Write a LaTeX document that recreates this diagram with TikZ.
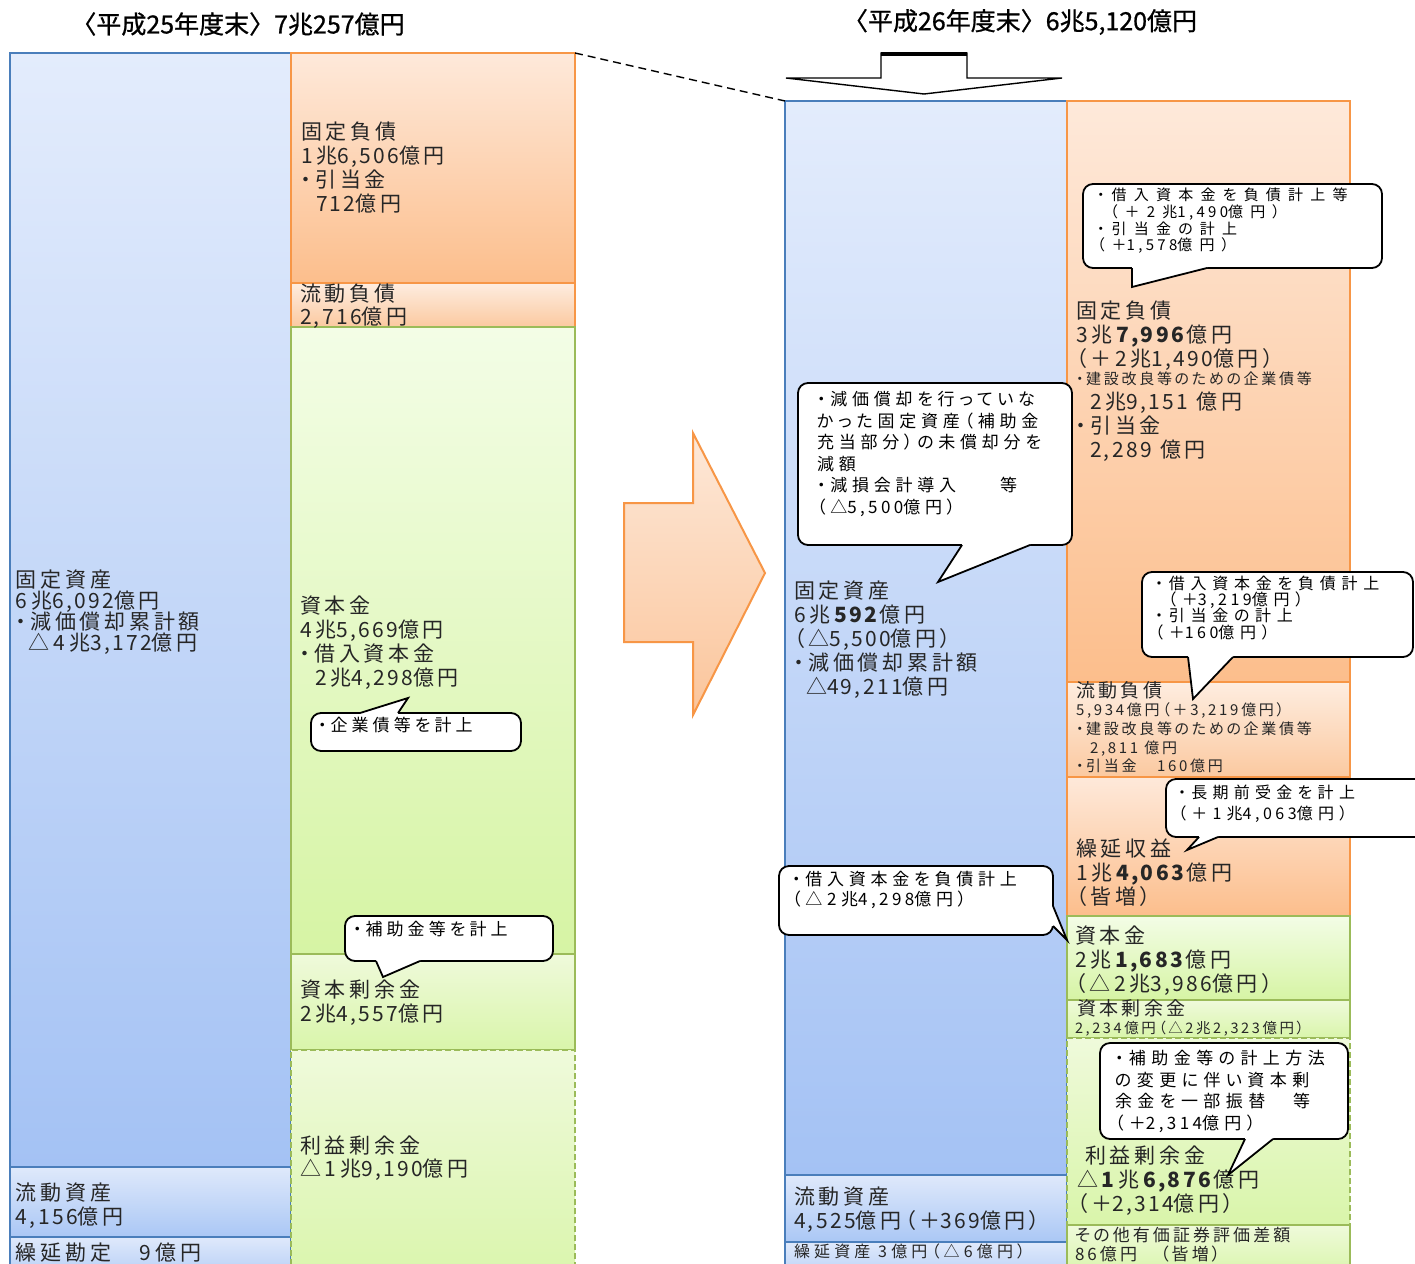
\documentclass[tikz,border=0pt]{standalone}
\usepackage{fontspec}
\setmainfont{Noto Sans CJK JP}[LetterSpace=18,RawFeature=+palt]
\newfontfamily\tfont{Noto Sans CJK JP}[FakeBold=0.8]
\newcommand\zs{\rule[-.25\baselineskip]{0pt}{\baselineskip}}
\newcommand\jf[2]{\fontsize{#1}{#2}\selectfont\lineskiplimit=-\maxdimen\relax}
\newcommand\lsp[1]{\addfontfeature{LetterSpace=#1}}
\newcommand\nmls{11}
\newcommand\nm[1]{{\addfontfeature{LetterSpace=\nmls}#1}}
\definecolor{segblue}{HTML}{4A7EBB}
\definecolor{bluetop}{HTML}{E3ECFC}
\definecolor{bluebot}{HTML}{A4C2F4}
\definecolor{bluetop2}{HTML}{DFE9FB}
\definecolor{bluebot2}{HTML}{AAC7F5}
\definecolor{orgline}{HTML}{F79646}
\definecolor{orgtop}{HTML}{FEE9DA}
\definecolor{orgbot}{HTML}{FCBE8C}
\definecolor{orgtop2}{HTML}{FEEDE0}
\definecolor{orgbot2}{HTML}{FBC9A0}
\definecolor{grnline}{HTML}{9BBB59}
\definecolor{grntop}{HTML}{F3FDE6}
\definecolor{grnbot}{HTML}{D6F4A4}
\definecolor{grntop2}{HTML}{EFFADB}
\definecolor{grnbot2}{HTML}{D9F5AA}
\definecolor{txtc}{HTML}{262626}
\definecolor{arrtop}{HTML}{FDE8D8}
\definecolor{arrbot}{HTML}{FBC59B}
\begin{document}
\begin{tikzpicture}[x=1pt,y=-1pt,
  seg/.style={anchor=north west,inner sep=0pt,outer sep=0pt,line width=1.6pt},
  bseg/.style={seg,draw=segblue,top color=bluetop,bottom color=bluebot},
  bseg2/.style={seg,draw=segblue,top color=bluetop2,bottom color=bluebot2},
  oseg/.style={seg,draw=orgline,top color=orgtop,bottom color=orgbot},
  oseg2/.style={seg,draw=orgline,top color=orgtop2,bottom color=orgbot2},
  gseg/.style={seg,draw=grnline,top color=grntop,bottom color=grnbot},
  gseg2/.style={seg,draw=grnline,top color=grntop2,bottom color=grnbot2},
  lbl/.style={anchor=north west,inner sep=0pt,outer sep=0pt,align=left,text=txtc},
  ctxt/.style={lbl,text=black},
  cbox/.style={anchor=north west,inner sep=0pt,outer sep=0pt,draw=black,fill=white,line width=1.8pt,rounded corners=10pt},
  ctail/.style={draw=black,line width=1.8pt,line join=miter},
  ttl/.style={font=\tfont\fontsize{25}{28}\selectfont,text=black,inner sep=0pt}
]
\useasboundingbox (0,0) rectangle (1415,1263);
\clip (0,0) rectangle (1415,1263);
\fill[white] (0,0) rectangle (1415,1263);

% titles
\node[ttl] (T1) at (238,24) {〈平成25年度末〉7兆257億円};
\node[ttl] (T2) at (1020,22) {〈平成26年度末〉6兆5,120億円};

% ---------- left balance sheet ----------
\node[bseg,minimum width=281pt,minimum height=1114pt] (LA1) at (10,53) {};
\node[bseg2,minimum width=281pt,minimum height=70pt] (LA2) at (10,1167) {};
\node[bseg2,minimum width=281pt,minimum height=50pt] (LA3) at (10,1237) {};
\node[oseg,minimum width=284pt,minimum height=230pt] (LL1) at (291,53) {};
\node[oseg2,minimum width=284pt,minimum height=44pt] (LL2) at (291,283) {};
\node[gseg,minimum width=284pt,minimum height=627pt] (LE1) at (291,327) {};
\node[gseg2,minimum width=284pt,minimum height=96pt] (LE2) at (291,954) {};
\node[gseg2,dashed,dash pattern=on 6pt off 3pt,minimum width=284pt,minimum height=240pt] (LE3) at (291,1050) {};

% ---------- right balance sheet ----------
\node[bseg,minimum width=282pt,minimum height=1074pt] (RA1) at (785,101) {};
\node[bseg2,minimum width=282pt,minimum height=67pt] (RA2) at (785,1175) {};
\node[bseg2,minimum width=282pt,minimum height=50pt] (RA3) at (785,1242) {};
\node[oseg,minimum width=283pt,minimum height=581pt] (RL1) at (1067,101) {};
\node[oseg2,minimum width=283pt,minimum height=95pt] (RL2) at (1067,682) {};
\node[oseg,minimum width=283pt,minimum height=139pt] (RL3) at (1067,777) {};
\node[gseg,minimum width=283pt,minimum height=84pt] (RE1) at (1067,916) {};
\node[gseg2,minimum width=283pt,minimum height=38pt] (RE2) at (1067,1000) {};
\node[gseg2,dashed,dash pattern=on 6pt off 3pt,minimum width=283pt,minimum height=187pt] (RE3) at (1067,1038) {};
\node[gseg2,minimum width=283pt,minimum height=50pt] (RE4) at (1067,1225) {};

% dashed connector
\draw[line width=1.4pt,dash pattern=on 8pt off 5pt] (LL1.north east) -- (RA1.north west);

% down arrow
\draw[fill=white,line width=1.4pt,line join=miter] (881,53) -- (967,53) -- (967,78) -- (1062,78) -- (924,94) -- (786,78) -- (881,78) -- cycle;
\draw[line width=4pt] (881,54) -- (967,54);

% big right arrow
\path[draw=orgline,line width=2pt,top color=arrtop,bottom color=arrbot,line join=miter]
  (624,503) -- (693,503) -- (693,433) -- (765,573) -- (693,715) -- (693,642) -- (624,642) -- cycle;

% ---------- left labels ----------
\node[lbl,font={\jf{21}{21}}] (tLA1) at (16,570.2) {\zs{}固定資産\\6兆\nm{6,092}億円\\・減価償却累計額\\\hspace*{13pt}△4兆\nm{3,172}億円};
\node[lbl,font={\jf{21}{24}}] (tLA2) at (16,1182) {\zs{}流動資産\\\nm{4,156}億円};
\node[lbl,font={\jf{21}{24}}] (tLA3) at (16,1242) {\zs{}繰延勘定　9億円};
\node[lbl,font={\jf{21}{24.3}}] (tLL1) at (301,120.8) {\zs{}固定負債\\1兆\nm{6,506}億円\\・引当金\\\hspace*{15pt}\nm{712}億円};
\node[lbl,font={\jf{21}{23}}] (tLL2) at (300,283.8) {\zs{}流動負債\\\nm{2,716}億円};
\node[lbl,font={\jf{21}{24}}] (tLE1) at (300,595) {\zs{}資本金\\4兆\nm{5,669}億円\\・借入資本金\\\hspace*{15pt}2兆\nm{4,298}億円};
\node[lbl,font={\jf{21}{24}}] (tLE2) at (300,979) {\zs{}資本剰余金\\2兆\nm{4,557}億円};
\node[lbl,font={\jf{21}{23}}] (tLE3) at (300,1135.8) {\zs{}利益剰余金\\△1兆\nm{9,190}億円};

% ---------- right labels ----------
\node[lbl,font={\jf{21}{24}}] (tRA1) at (794,580) {\zs{}固定資産\\6兆\textbf{\nm{592}}億円\\（△\nm{5,500}億円）\\・減価償却累計額\\\hspace*{12pt}△\nm{49,211}億円};
\node[lbl,font={\jf{21}{24}}] (tRA2) at (794,1186) {\zs{}流動資産\\\nm{4,525}億円（＋\nm{369}億円）};
\node[lbl,font={\jf{16}{18}\lsp{26}}] (tRA3) at (794,1244.2) {\zs{}繰延資産 3億円（△6億円）};
\node[lbl,font={\jf{21}{24}}] (tRL1a) at (1076,300) {\zs{}固定負債\\3兆\textbf{\nm{7,996}}億円\\（＋2兆\nm{1,490}億円）};
\node[lbl,font={\jf{15}{18}}] (tRL1b) at (1076,371.2) {\zs{}・建設改良等のための企業債等};
\node[lbl,font={\jf{21}{24}}] (tRL1c) at (1076,391) {\zs{}\hspace*{14pt}2兆\nm{9,151} 億円\\・引当金\\\hspace*{14pt}\nm{2,289} 億円};
\node[lbl,font={\jf{19}{22}}] (tRL2a) at (1076,680.7) {\zs{}流動負債};
\node[lbl,font={\jf{15}{18.7}}] (tRL2b) at (1076,701.7) {\zs{}5,934億円（＋3,219億円）\\・建設改良等のための企業債等\\\hspace*{14pt}2,811 億円\\・引当金　160億円};
\node[lbl,font={\jf{21}{24}}] (tRL3) at (1076,838) {\zs{}繰延収益\\1兆\textbf{\nm{4,063}}億円\\（皆増）};
\node[lbl,font={\jf{21}{24}}] (tRE1) at (1075,925) {\zs{}資本金\\2兆\textbf{\nm{1,683}}億円\\（△2兆\nm{3,986}億円）};
\node[lbl,font={\jf{19}{21}}] (tRE2a) at (1077,999.5) {\zs{}資本剰余金};
\node[lbl,font={\jf{14.5}{17}}] (tRE2b) at (1075,1020.6) {\zs{}2,234億円（△2兆2,323億円）};
\node[lbl,font={\jf{21}{24}}] (tRE3) at (1077,1145) {\zs{}\hspace*{8pt}利益剰余金\\△\textbf{1}兆\textbf{\nm{6,876}}億円\\（＋\nm{2,314}億円）};
\node[lbl,font={\jf{17}{19}}] (tRE4) at (1075,1227.2) {\zs{}その他有価証券評価差額\\86億円　（皆増）};

% ---------- callouts: left ----------
\node[cbox,minimum width=210pt,minimum height=38pt] (cL1) at (311,713) {};
\fill[white] (360,713) -- (408,698) -- (398,713) -- (398,716) -- (360,716) -- cycle;
\draw[ctail] (360,713) -- (408,698) -- (398,713);
\node[ctxt,font={\jf{17}{20}\lsp{24}}] (xL1) at (318,716.5) {\zs{}・企業債等を計上};

\node[cbox,minimum width=208pt,minimum height=45pt] (cL2) at (345,916) {};
\fill[white] (376,961) -- (383,977) -- (420,961) -- (420,958) -- (376,958) -- cycle;
\draw[ctail] (376,961) -- (383,977) -- (420,961);
\node[ctxt,font={\jf{17}{20}\lsp{24}}] (xL2) at (353,920.5) {\zs{}・補助金等を計上};

% ---------- callouts: right ----------
\node[cbox,minimum width=299pt,minimum height=84pt] (c1) at (1083,184) {};
\fill[white] (1132,268) -- (1132,287) -- (1207,268) -- (1207,265) -- (1132,265) -- cycle;
\draw[ctail] (1132,268) -- (1132,287) -- (1207,268);
\node[ctxt,font={\jf{15}{16.7}\lsp{48}\renewcommand\nmls{22}}] (x1) at (1097,188.2) {\zs{}・借入資本金を負債計上等\\\hspace*{13pt}（＋2兆\nm{1,490}億円）\\・引当金の計上\\（＋\nm{1,578}億円）};

\node[cbox,minimum width=274pt,minimum height=162pt] (c2) at (798,383) {};
\fill[white] (962,545) -- (938,582) -- (1030,545) -- (1030,542) -- (962,542) -- cycle;
\draw[ctail] (962,545) -- (938,582) -- (1030,545);
\node[ctxt,font={\jf{17}{21.6}\lsp{28}\renewcommand\nmls{20}}] (x2) at (817,389.3) {\zs{}・減価償却を行っていな\\かった固定資産（補助金\\充当部分）の未償却分を\\減額\\・減損会計導入\hspace*{44pt}等\\（△\nm{5,500}億円）};

\node[cbox,minimum width=271pt,minimum height=85pt] (c3) at (1142,572) {};
\fill[white] (1188,657) -- (1193,699) -- (1233,657) -- (1233,654) -- (1188,654) -- cycle;
\draw[ctail] (1188,657) -- (1193,699) -- (1233,657);
\node[ctxt,font={\jf{16}{16.3}\lsp{36}\renewcommand\nmls{22}}] (x3) at (1155,575.9) {\zs{}・借入資本金を負債計上\\\hspace*{13pt}（＋\nm{3,219}億円）\\・引当金の計上\\（＋\nm{160}億円）};

\node[cbox,minimum width=270pt,minimum height=58pt] (c4) at (1166,779) {};
\fill[white] (1199,837) -- (1187,850) -- (1218,837) -- (1218,834) -- (1199,834) -- cycle;
\draw[ctail] (1199,837) -- (1187,850) -- (1218,837);
\node[ctxt,font={\jf{16}{21}\lsp{33}\renewcommand\nmls{22}}] (x4) at (1178,782.4) {\zs{}・長期前受金を計上\\（＋1兆\nm{4,063}億円）};

\node[cbox,minimum width=274pt,minimum height=69pt] (c5) at (779,866) {};
\fill[white] (1053,906) -- (1067,940) -- (1053,926) -- (1050,926) -- (1050,906) -- cycle;
\draw[ctail] (1053,906) -- (1067,940) -- (1053,926);
\node[ctxt,font={\jf{17}{20}\lsp{28}\renewcommand\nmls{20}}] (x5) at (792,870.5) {\zs{}・借入資本金を負債計上\\（△2兆\nm{4,298}億円）};

\node[cbox,minimum width=248pt,minimum height=96pt] (c6) at (1100,1043) {};
\fill[white] (1245,1139) -- (1228,1175) -- (1273,1139) -- (1273,1136) -- (1245,1136) -- cycle;
\draw[ctail] (1245,1139) -- (1228,1175) -- (1273,1139);
\node[ctxt,font={\jf{17}{21.7}\lsp{32}\renewcommand\nmls{20}}] (x6) at (1115,1048.2) {\zs{}・補助金等の計上方法\\の変更に伴い資本剰\\余金を一部振替　等\\（＋\nm{2,314}億円）};
\end{tikzpicture}
\end{document}
